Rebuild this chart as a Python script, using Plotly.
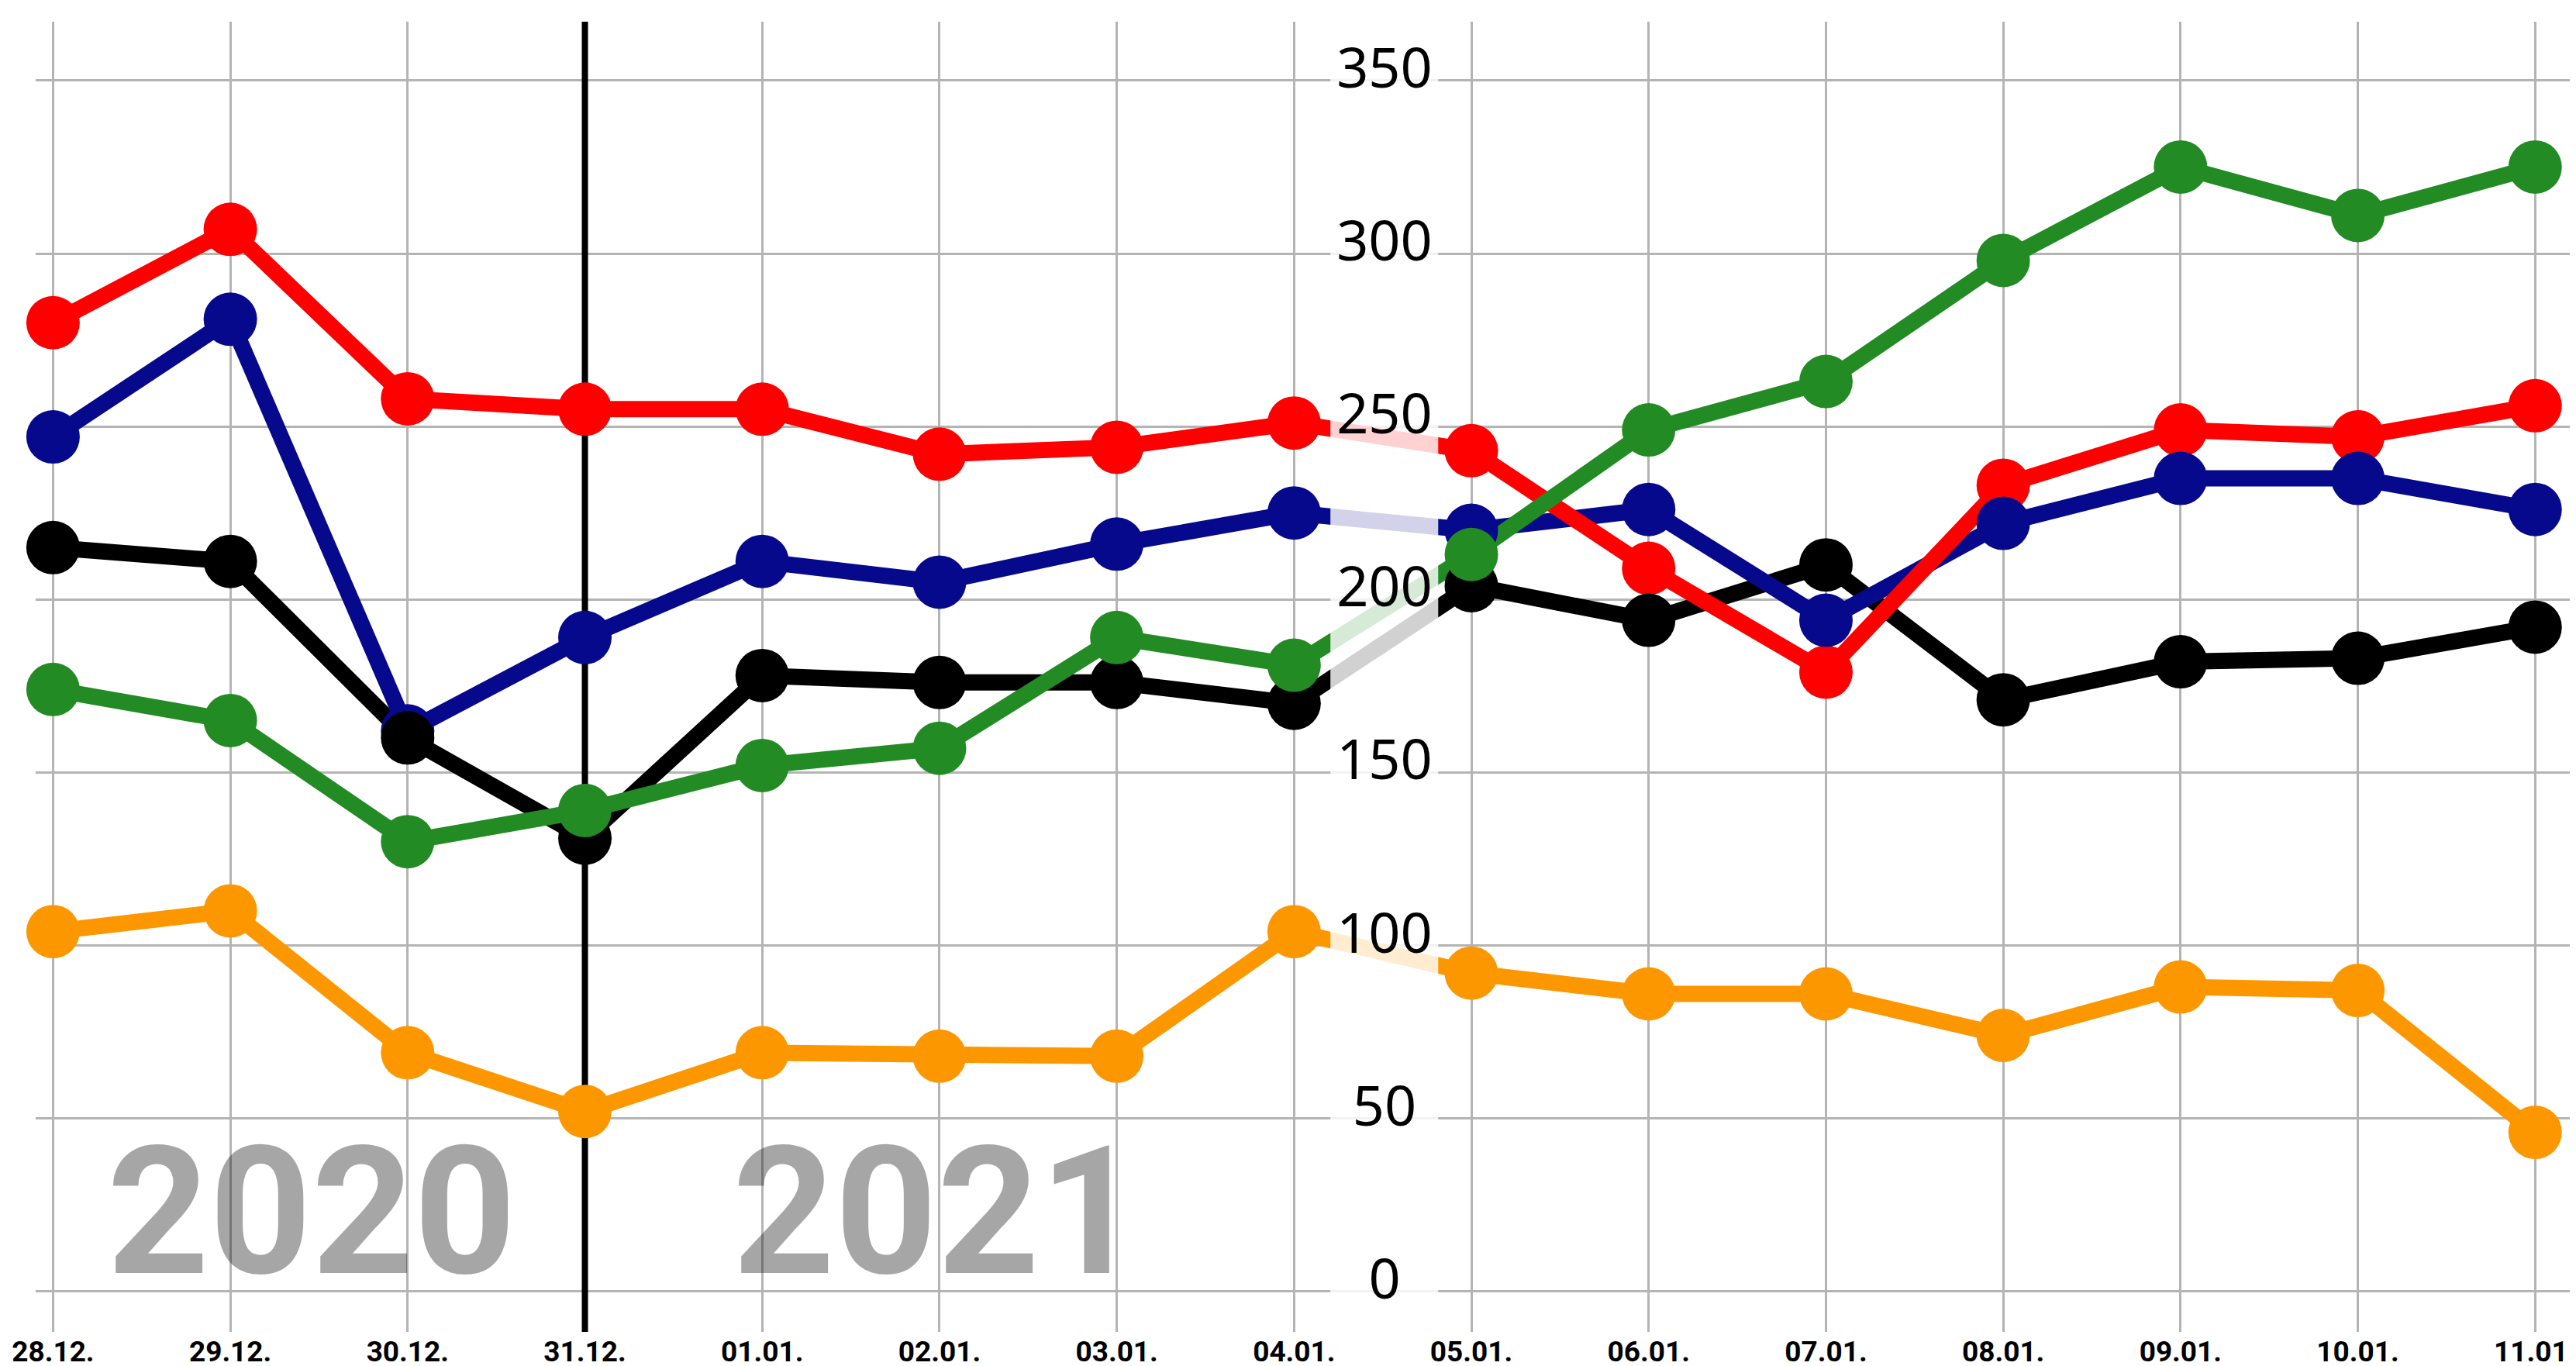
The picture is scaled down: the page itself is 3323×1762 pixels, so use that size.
import plotly.graph_objects as go

dates = ["28.12.", "29.12.", "30.12.", "31.12.", "01.01.", "02.01.", "03.01.", "04.01.",
         "05.01.", "06.01.", "07.01.", "08.01.", "09.01.", "10.01.", "11.01."]
red = [280, 307, 258, 255, 255, 242, 244, 251, 243, 209, 179, 233, 249, 247, 256]
blue = [247, 281, 162, 189, 211, 205, 216, 225, 220, 226, 194, 222, 235, 235, 226]
black = [215, 211, 160, 131, 178, 176, 176, 170, 204, 194, 210, 171, 182, 183, 192]
green = [174, 165, 130, 139, 152, 157, 189, 181, 213, 249, 263, 298, 325, 311, 325]
orange = [104, 110, 69, 52, 69, 68, 68, 104, 92, 86, 86, 74, 88, 87, 46]
y_ticks = [0, 50, 100, 150, 200, 250, 300, 350]
y_labels = ["0", "50", "100", "150", "200", "250", "300", "350"]
year_labels = ["2020", "2021"]

X_RANGE = [-0.098, 14.2]
Y_RANGE = [-11.7, 367]
xs = list(range(len(dates)))

C_RED = "#ff0000"
C_BLUE = "#06098c"
C_BLACK = "#000000"
C_GREEN = "#238b23"
C_ORANGE = "#fd9700"

fig = go.Figure()

# vertical year separator at 31.12.
fig.add_trace(go.Scatter(x=[3, 3], y=Y_RANGE, mode="lines",
                         line=dict(color="black", width=8), hoverinfo="skip"))

series = [("orange", orange, C_ORANGE), ("black", black, C_BLACK), ("blue", blue, C_BLUE),
          ("red", red, C_RED), ("green", green, C_GREEN)]
# lines first
for name, vals, col in series:
    fig.add_trace(go.Scatter(x=xs, y=vals, mode="lines", line=dict(color=col, width=21),
                             name=name, cliponaxis=False))
# markers on top
marker_order = [("orange", orange, C_ORANGE), ("red", red, C_RED), ("blue", blue, C_BLUE),
                ("black", black, C_BLACK), ("green", green, C_GREEN)]
for name, vals, col in marker_order:
    fig.add_trace(go.Scatter(x=xs, y=vals, mode="markers",
                             marker=dict(color=col, size=69, line=dict(width=0)),
                             name=name, cliponaxis=False))

# translucent white band behind the y-axis labels
bx0, bx1 = 7.205, 7.813
fig.add_trace(go.Scatter(x=[bx0, bx1, bx1, bx0, bx0],
                         y=[Y_RANGE[0], Y_RANGE[0], Y_RANGE[1], Y_RANGE[1], Y_RANGE[0]],
                         mode="lines", fill="toself", fillcolor="rgba(255,255,255,0.82)",
                         line=dict(width=0), hoverinfo="skip"))

# y-axis labels in the middle of the chart
fig.add_trace(go.Scatter(x=[7.51] * len(y_ticks), y=[v + 2 for v in y_ticks], mode="text",
                         text=y_labels, textposition="middle center",
                         textfont=dict(family="Noto Sans", size=72, color="black"),
                         hoverinfo="skip"))

# big year labels
for lab, xc in zip(year_labels, [1.459, 4.988]):
    fig.add_annotation(x=xc, y=23, xref="x", yref="y", text=lab, showarrow=False,
                       xanchor="center", yanchor="middle",
                       font=dict(family="Roboto", size=230, color="rgba(0,0,0,0.35)",
                                 weight="bold"))

fig.update_layout(
    width=3323, height=1762,
    margin=dict(l=38, r=15, t=20, b=52, autoexpand=False),
    paper_bgcolor="white", plot_bgcolor="white",
    showlegend=False,
)
fig.update_xaxes(range=X_RANGE, tickmode="array", tickvals=xs, ticktext=dates,
                 showgrid=True, gridcolor="#b4b4b4", gridwidth=3, zeroline=False,
                 showline=False, ticks="", automargin=False,
                 tickfont=dict(family="Roboto", size=37, color="black", weight="bold"))
fig.update_yaxes(range=Y_RANGE, tickmode="array", tickvals=y_ticks, showticklabels=False,
                 showgrid=True, gridcolor="#b4b4b4", gridwidth=3, zeroline=False,
                 showline=False, ticks="", automargin=False)

fig.write_html("out.html")
